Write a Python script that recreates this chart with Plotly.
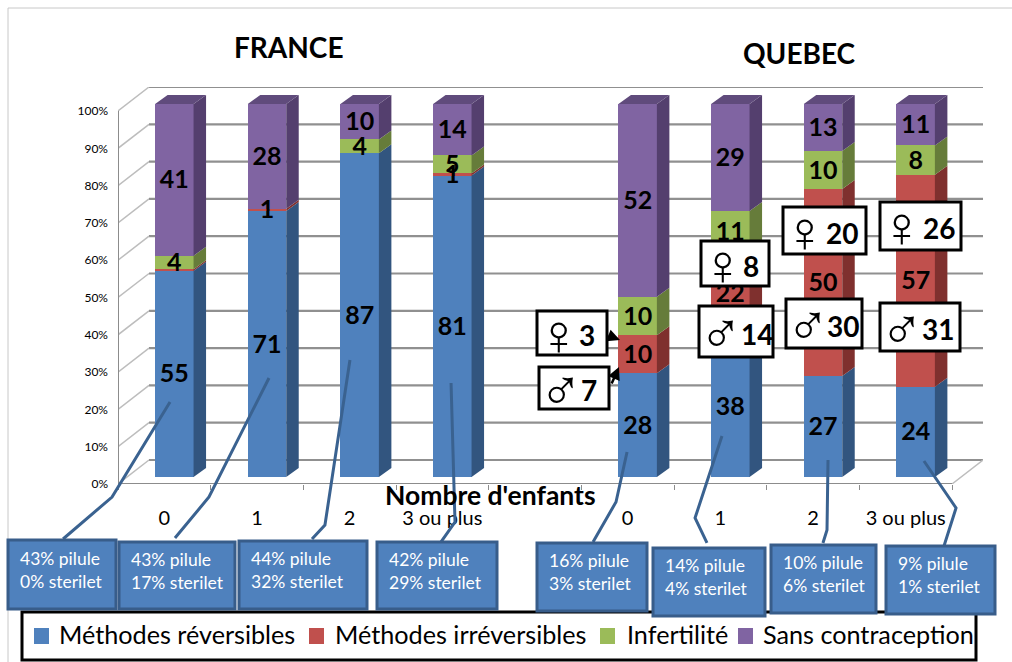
#!/usr/bin/env python3
"""Contraception par nombre d'enfants, France et Quebec : barres empilees facon Excel 3D."""

import plotly.graph_objects as go

W, H = 1012, 662
FONT = "Lato, Carlito, sans-serif"

# Data (the labels are these values rounded)
slots = [0, 1, 2, 3, 5, 6, 7, 8]
tick_labels = ["0", "1", "2", "3 ou plus", "0", "1", "2", "3 ou plus"]
reversibles = [55.3, 71.3, 86.8, 80.8, 27.8, 38.0, 27.1, 24.2]
irreversibles = [0.4, 0.6, 0, 0.6, 10.2, 22.2, 50.1, 56.8]
infertilite = [3.6, 0, 3.7, 4.8, 10.3, 11.1, 10.2, 7.9]
sans_contraception = [40.7, 28.1, 9.5, 13.8, 51.7, 28.7, 12.6, 11.1]
pct_ticks = [0, 10, 20, 30, 40, 50, 60, 70, 80, 90, 100]

series_names = ["Méthodes réversibles", "Méthodes irréversibles", "Infertilité", "Sans contraception"]
series_values = [reversibles, irreversibles, infertilite, sans_contraception]
front_colors = ["#4F81BD", "#C0504D", "#9BBB59", "#8064A2"]
side_colors = ["#32557F", "#7F302E", "#667C3A", "#543F6E"]
top_color = "#604B7C"

pilule_texts = [
    "43% pilule<br>0% sterilet", "43% pilule<br>17% sterilet", "44% pilule<br>32% sterilet",
    "42% pilule<br>29% sterilet", "16% pilule<br>3% sterilet", "14% pilule<br>4% sterilet",
    "10% pilule<br>6% sterilet", "9% pilule<br>1% sterilet",
]
sex_labels = [("♀", "3"), ("♂", "7"), ("♀", "8"), ("♂", "14"), ("♀", "20"), ("♂", "30"), ("♀", "26"), ("♂", "31")]

# Placement, in page pixels
pilule_boxes = [
    (8, 540, 116, 609), (119, 542, 235, 609), (239, 541, 367, 609), (377, 542, 497, 609),
    (537, 543, 647, 611), (653, 548, 765, 616), (771, 545, 876, 613), (886, 546, 995, 614),
]
leaders = [
    [(170, 402), (112, 497), (63, 539)], [(269, 378), (209, 497), (175, 538)],
    [(350, 360), (325, 525), (312, 539)], [(451, 383), (455, 522), (441, 542)],
    [(627, 452), (616, 502), (593, 542)], [(722, 436), (695, 518), (707, 543)],
    [(828, 460), (827, 530), (823, 543)], [(924, 461), (956, 508), (944, 546)],
]
sex_boxes = [
    (537, 311, 607, 355), (539, 367, 609, 409), (701, 241, 769, 286), (699, 306, 773, 357),
    (783, 207, 866, 254), (786, 299, 862, 348), (880, 202, 961, 250), (880, 303, 960, 351),
]
sex_number_x = [587, 589, 751, 757, 842, 843, 939, 938]
legend_swatch_x = [34, 309, 600, 738]
legend_text_x = [57, 333, 625, 761]


def px(x):
    return x / W


def py(y):
    return 1 - y / H


fig = go.Figure()

# Walls and floor on the front plane axes (x / y), below the bars
BACK_DX, BACK_DY = 31 / 92.67, 24 / 3.73
x0, x1 = -0.5, 8.5
wall_x, wall_y, side_x, side_y = [], [], [], []
for v in pct_ticks:
    wall_x += [x0 + BACK_DX, x1 + BACK_DX, None]
    wall_y += [v + BACK_DY, v + BACK_DY, None]
    side_x += [x0, x0 + BACK_DX, None]
    side_y += [v, v + BACK_DY, None]
side_x += [x1, x1 + BACK_DX]
side_y += [0, BACK_DY]
fig.add_trace(go.Scatter(x=wall_x, y=wall_y, mode="lines", line=dict(color="#909090", width=2.2),
                         cliponaxis=False, showlegend=False, hoverinfo="skip"))
fig.add_trace(go.Scatter(x=side_x, y=side_y, mode="lines", line=dict(color="#BDBDBD", width=1.5),
                         cliponaxis=False, showlegend=False, hoverinfo="skip"))
fig.add_trace(go.Scatter(x=[x0, x0, x1], y=[100, 0, 0], mode="lines", line=dict(color="#8C8C8C", width=2),
                         cliponaxis=False, showlegend=False, hoverinfo="skip"))

# Stacked bars, on a plane slightly behind the front axes (x2 / y2)
for name, values, color in zip(series_names, series_values, front_colors):
    fig.add_trace(go.Bar(
        x=slots, y=values, name=name, xaxis="x2", yaxis="y2", showlegend=False,
        width=0.415, marker=dict(color=color, line=dict(width=0)), cliponaxis=False,
    ))

# Side and top faces, from the same stacked values
DX, DY = 12.5 / 92.67, 9 / 3.73
HALF = 0.415 / 2
LABEL_DROP = 0.6  # labels sit a little under the segment centre
totals = [sum(col) for col in zip(*series_values)]
bottoms = [0] * len(slots)
label_traces = []
for values, color in zip(series_values, side_colors):
    xs, ys, mids = [], [], []
    for i, s in enumerate(slots):
        lo = bottoms[i] * 100 / totals[i]
        hi = (bottoms[i] + values[i]) * 100 / totals[i]
        r = s + HALF
        xs += [r, r + DX, r + DX, r, r, None]
        ys += [lo, lo + DY, hi + DY, hi, lo, None]
        mids.append((lo + hi) / 2 - LABEL_DROP)
        bottoms[i] += values[i]
    fig.add_trace(go.Scatter(x=xs, y=ys, xaxis="x2", yaxis="y2", mode="lines", fill="toself",
                             fillcolor=color, line=dict(width=0), cliponaxis=False,
                             showlegend=False, hoverinfo="skip"))
    label_traces.append(go.Scatter(
        x=slots, y=mids, xaxis="x2", yaxis="y2", mode="text", cliponaxis=False, showlegend=False,
        text=[str(round(v)) if round(v) else "" for v in values], textposition="middle center",
        textfont=dict(family=FONT, size=25, color="black", weight="bold"), hoverinfo="skip",
    ))
top_x, top_y = [], []
for s in slots:
    top_x += [s - HALF, s - HALF + DX, s + HALF + DX, s + HALF, s - HALF, None]
    top_y += [100, 100 + DY, 100 + DY, 100, 100, None]
fig.add_trace(go.Scatter(x=top_x, y=top_y, xaxis="x2", yaxis="y2", mode="lines", fill="toself",
                         fillcolor=top_color, line=dict(width=0), cliponaxis=False,
                         showlegend=False, hoverinfo="skip"))
fig.add_traces(label_traces)

shapes = [
    # page frame
    dict(type="line", xref="paper", yref="paper", x0=px(8), x1=px(8), y0=py(8), y1=0,
         line=dict(color="#C8C8C8", width=1)),
    dict(type="line", xref="paper", yref="paper", x0=px(8), x1=1, y0=py(8), y1=py(8),
         line=dict(color="#C8C8C8", width=1)),
    # legend frame
    dict(type="rect", xref="paper", yref="paper", x0=px(22), x1=px(976), y0=py(612), y1=py(660),
         fillcolor="white", line=dict(color="black", width=3)),
]
for pts in leaders:
    path = "M " + " L ".join(f"{px(a):.4f},{py(b):.4f}" for a, b in pts)
    shapes.append(dict(type="path", xref="paper", yref="paper", path=path,
                       line=dict(color="#3A6290", width=3)))
for (l, t, r, b) in pilule_boxes:
    shapes.append(dict(type="rect", xref="paper", yref="paper", x0=px(l), x1=px(r), y0=py(t), y1=py(b),
                       fillcolor="#4F81BD", line=dict(color="#385D8A", width=3)))
for sx, color in zip(legend_swatch_x, front_colors):
    shapes.append(dict(type="rect", xref="paper", yref="paper", x0=px(sx), x1=px(sx + 15), y0=py(628), y1=py(644),
                       fillcolor=color, line=dict(width=0)))
for (l, t, r, b) in sex_boxes:
    shapes.append(dict(type="rect", xref="paper", yref="paper", x0=px(l), x1=px(r), y0=py(t), y1=py(b),
                       fillcolor="white", line=dict(color="black", width=3)))

annotations = [
    dict(text="<b>FRANCE</b>", x=px(289), y=py(47), font=dict(size=28)),
    dict(text="<b>QUEBEC</b>", x=px(799), y=py(53), font=dict(size=28)),
    dict(text="<b>Nombre d'enfants</b>", x=px(490), y=py(495), font=dict(size=26.5)),
]
for tx, name in zip(legend_text_x, series_names):
    annotations.append(dict(text=name, x=px(tx), y=py(634), xanchor="left", font=dict(size=25.2)))
for (l, t, r, b), txt in zip(pilule_boxes, pilule_texts):
    annotations.append(dict(
        text=txt, x=px(l + 10), y=py((t + b) / 2 - 5), xanchor="left", align="left",
        font=dict(size=17.5, color="white"),
    ))
for (l, t, r, b), (sym, num), nx in zip(sex_boxes, sex_labels, sex_number_x):
    annotations.append(dict(text=sym, x=px(l + 22), y=py((t + b) / 2 + 1),
                            font=dict(family="Liberation Sans", size=58)))
    annotations.append(dict(text=f"<b>{num}</b>", x=px(nx), y=py((t + b) / 2 + 2), font=dict(size=28)))
# Small arrows from the two left boxes to the red segment
annotations.append(dict(text="", x=px(620), y=py(340), ax=-13, ay=-5, showarrow=True,
                        arrowhead=2, arrowwidth=2.5, arrowcolor="black"))
annotations.append(dict(text="", x=px(619), y=py(367), ax=-8, ay=18, showarrow=True,
                        arrowhead=2, arrowwidth=2.5, arrowcolor="black"))
for a in annotations:
    a.setdefault("xref", "paper")
    a.setdefault("yref", "paper")
    a.setdefault("showarrow", False)
    a.setdefault("xanchor", "center")
    a.setdefault("yanchor", "middle")

fig.update_layout(
    width=W, height=H, autosize=False, margin=dict(l=0, r=0, t=0, b=0, autoexpand=False),
    paper_bgcolor="white", plot_bgcolor="rgba(0,0,0,0)",
    font=dict(family=FONT, color="black"), showlegend=False,
    barmode="stack", barnorm="percent", bargap=0,
    # the domains run past the 100% / last slot so the walls at the back are not clipped
    xaxis=dict(domain=[px(118), px(952 + 31)], range=[x0, x1 + BACK_DX], anchor="y",
               tickvals=slots, ticktext=tick_labels, ticks="", ticklabelstandoff=20,
               tickfont=dict(size=20), showgrid=False, zeroline=False, showline=False,
               minor=dict(tickvals=[i - 0.5 for i in range(10)], ticks="outside", ticklen=5,
                          tickcolor="#8C8C8C", tickwidth=1, showgrid=False)),
    yaxis=dict(domain=[py(484), py(87)], range=[0, 100 + BACK_DY], anchor="x",
               tickvals=pct_ticks, ticktext=[f"{v}%" for v in pct_ticks], ticks="",
               ticklabelstandoff=9, tickfont=dict(size=12), showgrid=False, zeroline=False, showline=False),
    xaxis2=dict(domain=[px(128), px(962)], range=[x0, x1], anchor="y2", visible=False),
    yaxis2=dict(domain=[py(477), py(94)], range=[0, 100 + 10 / 3.73], anchor="x2", visible=False),
    shapes=shapes, annotations=annotations,
)

fig.write_html("out.html", config=dict(displayModeBar=False),
               post_script="document.body.style.margin='0';document.body.style.overflow='hidden';")
